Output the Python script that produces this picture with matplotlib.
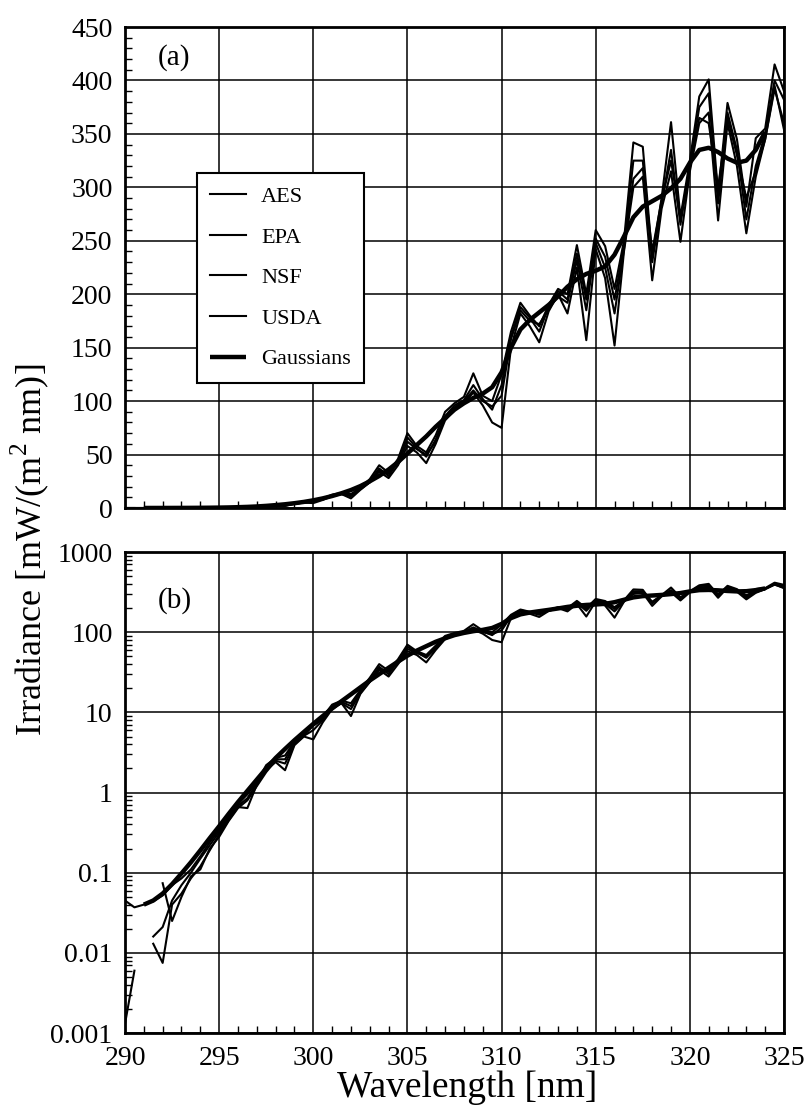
import numpy as np
import matplotlib
matplotlib.use("Agg")
import matplotlib.pyplot as plt
from matplotlib.ticker import MultipleLocator, FixedLocator, NullFormatter, LogLocator

plt.rcParams['font.family'] = ['Liberation Serif', 'DejaVu Serif']
plt.rcParams['mathtext.fontset'] = 'custom'
plt.rcParams['mathtext.rm'] = 'Liberation Serif'

nan = np.nan

wavelength = [
    290.0, 290.5, 291.0, 291.5, 292.0, 292.5, 293.0, 293.5, 294.0, 294.5,
    295.0, 295.5, 296.0, 296.5, 297.0, 297.5, 298.0, 298.5, 299.0, 299.5,
    300.0, 300.5, 301.0, 301.5, 302.0, 302.5, 303.0, 303.5, 304.0, 304.5,
    305.0, 305.5, 306.0, 306.5, 307.0, 307.5, 308.0, 308.5, 309.0, 309.5,
    310.0, 310.5, 311.0, 311.5, 312.0, 312.5, 313.0, 313.5, 314.0, 314.5,
    315.0, 315.5, 316.0, 316.5, 317.0, 317.5, 318.0, 318.5, 319.0, 319.5,
    320.0, 320.5, 321.0, 321.5, 322.0, 322.5, 323.0, 323.5, 324.0, 324.5,
    325.0,
]

aes = [
    0.045, 0.037, 0.040, 0.044, 0.052, 0.070, 0.085, 0.11, 0.16, 0.24,
    0.34, 0.50, 0.72, 0.95, 1.35, 2.2, 2.7, 2.9, 4.3, 5.4,
    7.2, 8.8, 12.5, 14, 13, 19, 27, 40, 33, 46,
    70, 58, 52, 68, 90, 98, 104, 126, 105, 100,
    125, 165, 192, 180, 170, 190, 205, 200, 246, 200,
    260, 245, 205, 250, 342, 338, 235, 290, 361, 272,
    325, 385, 401, 294, 379, 345, 282, 346, 355, 415,
    390,
]

epa = [
    0.0013, 0.006, nan, 0.016, 0.021, 0.045, 0.070, 0.10, 0.15, 0.22,
    0.32, 0.47, 0.68, 0.85, 1.3, 2.0, 2.6, 2.6, 4.2, 5.2,
    6.8, 8.2, 12, 13.5, 12, 18, 25, 37, 30, 44,
    66, 56, 48, 64, 86, 96, 101, 115, 102, 92,
    115, 160, 188, 178, 165, 188, 203, 195, 238, 195,
    252, 235, 195, 245, 325, 325, 230, 285, 335, 265,
    320, 375, 388, 285, 370, 335, 270, 320, 350, 400,
    382,
]

nsf = [
    nan, nan, nan, 0.013, 0.0075, 0.040, 0.055, 0.085, 0.12, 0.19,
    0.30, 0.45, 0.66, 0.64, 1.25, 1.9, 2.4, 1.9, 3.9, 5.0,
    4.6, 7.5, 11, 13, 9.0, 17, 24, 34, 28, 40,
    58, 52, 42, 60, 82, 92, 98, 108, 96, 80,
    75, 150, 182, 170, 155, 184, 200, 182, 225, 157,
    242, 215, 152, 240, 300, 310, 213, 280, 315, 249,
    315, 360, 370, 269, 360, 320, 257, 310, 345, 392,
    360,
]

usda = [
    nan, nan, nan, nan, 0.074, 0.025, 0.050, 0.090, 0.11, 0.20,
    0.28, 0.44, 0.64, 0.80, 1.2, 1.8, 2.5, 2.3, 4.0, 5.1,
    6.0, 8.0, 11.5, 13, 11, 17.5, 24, 35, 32, 42,
    62, 55, 50, 62, 85, 94, 100, 110, 100, 95,
    105, 158, 185, 175, 172, 186, 198, 192, 232, 185,
    248, 225, 182, 242, 308, 318, 240, 288, 325, 270,
    318, 365, 360, 300, 365, 330, 290, 315, 345, 395,
    354,
]

gauss_wl = [
    291.0, 291.5, 292.0, 292.5, 293.0, 293.5, 294.0, 294.5, 295.0, 295.5,
    296.0, 296.5, 297.0, 297.5, 298.0, 298.5, 299.0, 299.5, 300.0, 300.5,
    301.0, 301.5, 302.0, 302.5, 303.0, 303.5, 304.0, 304.5, 305.0, 305.5,
    306.0, 306.5, 307.0, 307.5, 308.0, 308.5, 309.0, 309.5, 310.0, 310.5,
    311.0, 311.5, 312.0, 312.5, 313.0, 313.5, 314.0, 314.5, 315.0, 315.5,
    316.0, 316.5, 317.0, 317.5, 318.0, 318.5, 319.0, 319.5, 320.0, 320.5,
    321.0, 321.5, 322.0, 322.5, 323.0, 323.5, 324.0,
]

gaussians = [
    0.040, 0.045, 0.055, 0.072, 0.098, 0.135, 0.19, 0.27, 0.38, 0.54,
    0.76, 1.05, 1.45, 2.0, 2.7, 3.5, 4.5, 5.7, 7.2, 9.0,
    11.2, 13.8, 16.8, 20.5, 25, 30, 36, 43, 51, 59,
    67, 76, 84, 92, 98, 103, 107, 113, 127, 150,
    167, 176, 183, 190, 198, 207, 214, 219, 222, 226,
    237, 254, 272, 282, 287, 292, 299, 308, 323, 335,
    337, 333, 327, 323, 325, 335, 352,
]

series = [("AES", aes), ("EPA", epa), ("NSF", nsf), ("USDA", usda)]

fig = plt.figure(figsize=(8.07, 11.07), dpi=100)
ax1 = fig.add_axes([0.1549, 0.5411, 0.8166, 0.4345])
ax2 = fig.add_axes([0.1549, 0.0668, 0.8166, 0.4345])

for ax in (ax1, ax2):
    for name, vals in series:
        ax.plot(wavelength, vals, color='black', lw=1.5, label=name)
    ax.plot(gauss_wl, gaussians, color='black', lw=3.2, label='Gaussians',
            solid_capstyle='butt')
    ax.set_xlim(290, 325)
    ax.xaxis.set_major_locator(MultipleLocator(5))
    ax.xaxis.set_minor_locator(MultipleLocator(1))
    ax.grid(True, which='major', color='black', lw=1.1)
    ax.tick_params(which='major', direction='in', length=0, labelsize=20, pad=9)
    ax.tick_params(which='minor', direction='in', length=5, width=1, color='black')
    for s in ax.spines.values():
        s.set_linewidth(2)

ax1.set_ylim(0, 450)
ax1.yaxis.set_major_locator(MultipleLocator(50))
ax1.yaxis.set_minor_locator(MultipleLocator(10))
ax1.tick_params(axis='x', which='major', labelbottom=False)

ax2.set_yscale('log')
ax2.set_ylim(0.001, 1000)
ticks = [0.001, 0.01, 0.1, 1, 10, 100, 1000]
ax2.yaxis.set_major_locator(FixedLocator(ticks))
ax2.set_yticklabels(["0.001", "0.01", "0.1", "1", "10", "100", "1000"])
ax2.yaxis.set_minor_locator(LogLocator(base=10, subs=np.arange(2, 10)))
ax2.yaxis.set_minor_formatter(NullFormatter())

ax1.text(0.05, 0.937, "(a)", transform=ax1.transAxes, fontsize=21, va='center')
ax2.text(0.05, 0.90, "(b)", transform=ax2.transAxes, fontsize=21, va='center')

leg = ax1.legend(loc='upper left', bbox_to_anchor=(0.109, 0.696), fontsize=16,
                 handlelength=1.6, labelspacing=0.9, borderpad=0.6,
                 handletextpad=0.7, borderaxespad=0, fancybox=False,
                 framealpha=1, edgecolor='black')
leg.get_frame().set_linewidth(1.5)

fig.text(0.579, 0.002, "Wavelength [nm]", fontsize=27, ha='center', va='bottom')
fig.text(0.037, 0.503, "Irradiance [mW/(m$^2$ nm)]", rotation=90,
         fontsize=26, ha='center', va='center')

fig.savefig("out.png", dpi=100)
